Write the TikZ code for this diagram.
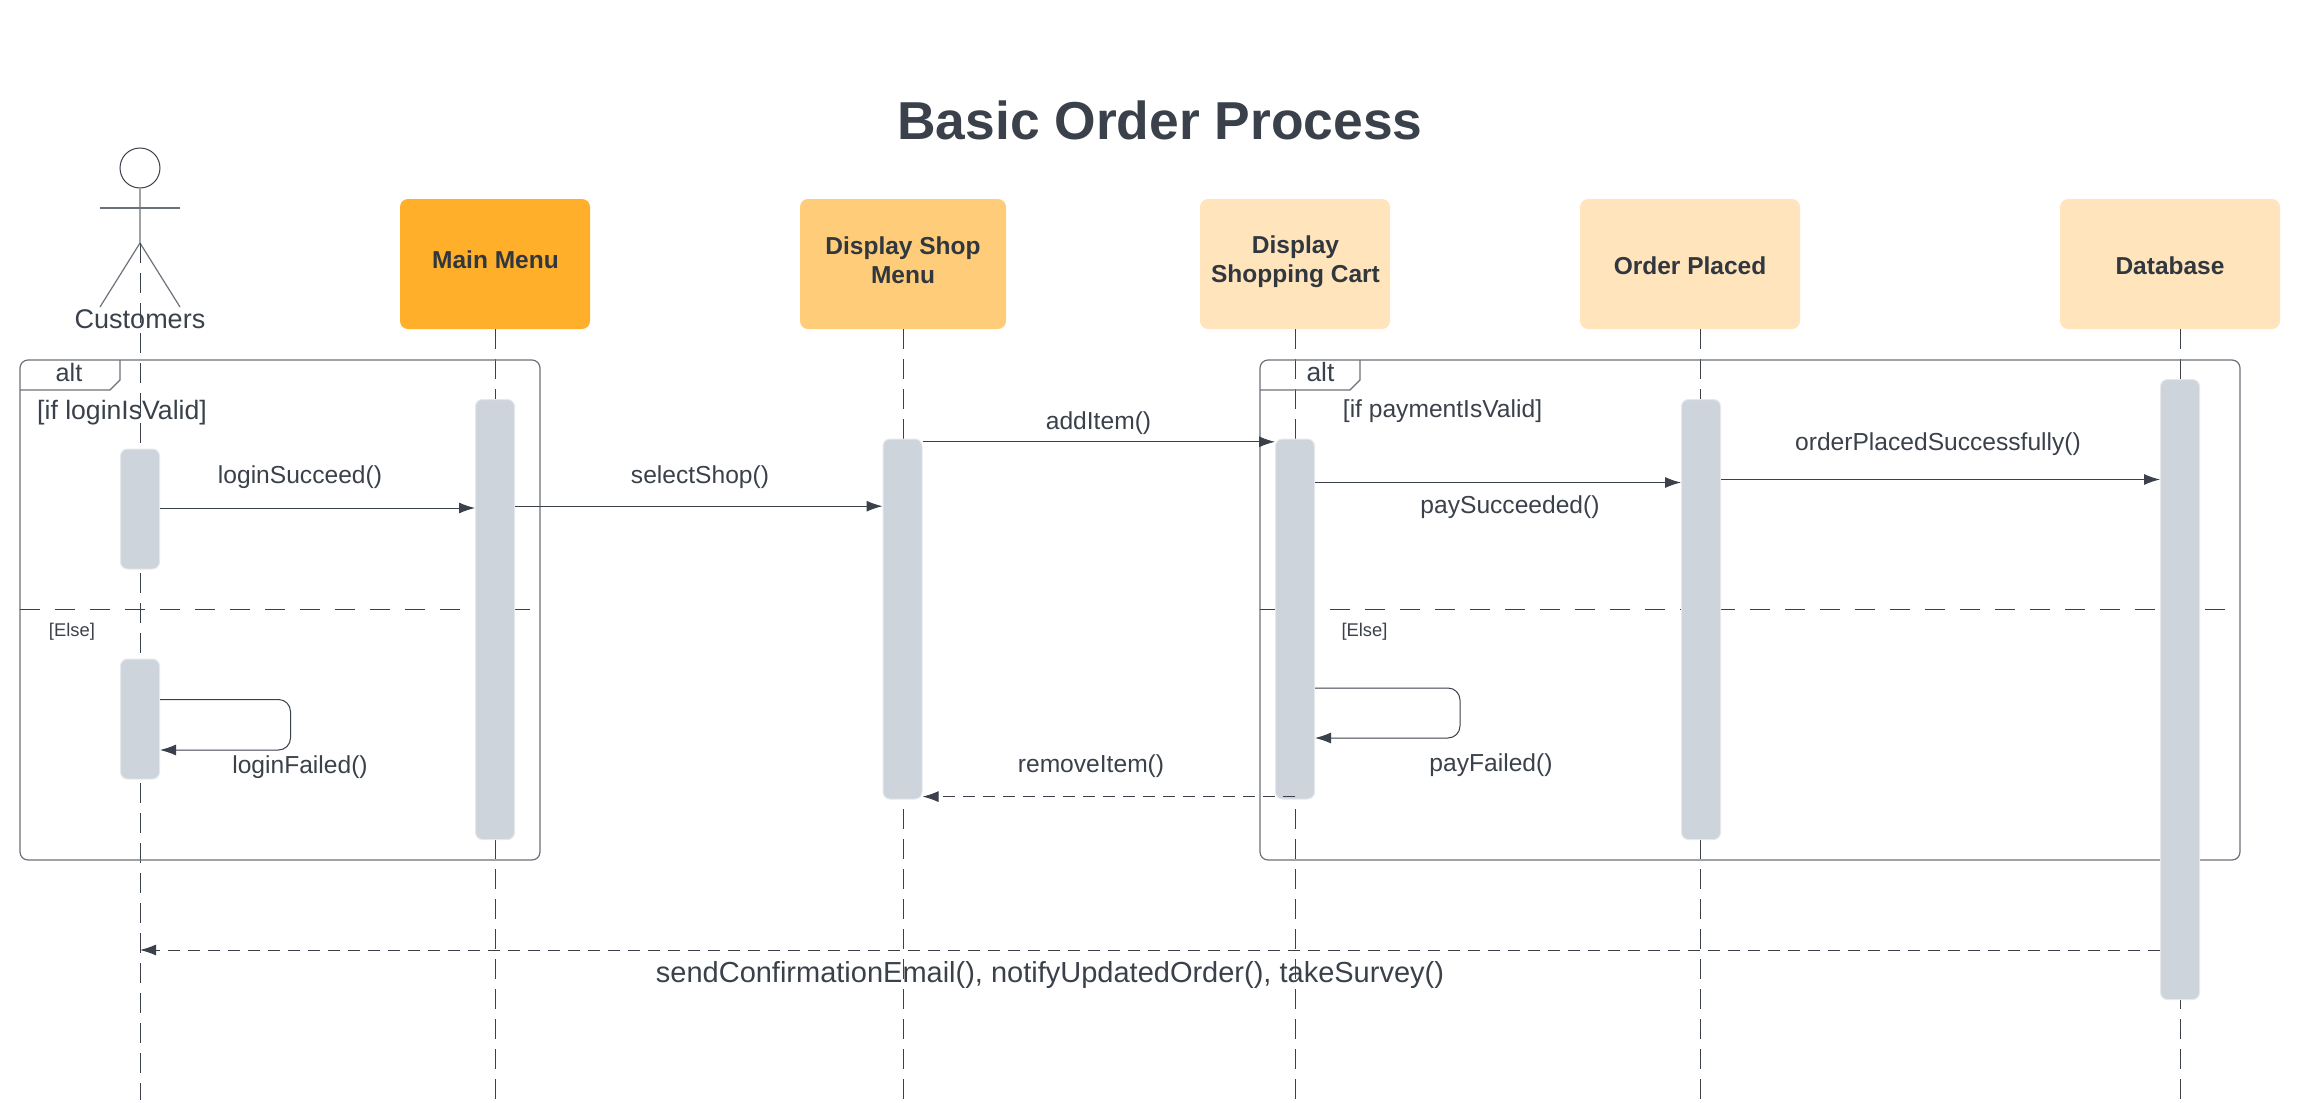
\documentclass[tikz,border=0pt]{standalone}
\usepackage{fontspec}
\setmainfont{Liberation Sans}
\usetikzlibrary{arrows.meta}
\definecolor{ink}{HTML}{3A414A}
\definecolor{frameC}{HTML}{6B717A}
\definecolor{barC}{HTML}{CED4DB}
\definecolor{barEdge}{HTML}{E6E8EB}
\definecolor{orA}{HTML}{FFAF2A}
\definecolor{orB}{HTML}{FFCD79}
\definecolor{orC}{HTML}{FFE4BC}
\newcommand{\fs}[1]{\fontsize{#1}{#1}\selectfont}
\tikzset{
  x=0.5pt,y=-0.5pt,
  head/.style={rectangle,rounded corners=4pt,inner sep=0pt,align=center,text=ink!85!black,font=\fs{12.25}\bfseries},
  bar/.style={rectangle,rounded corners=3.5pt,fill=barC,draw=barEdge,line width=0.5pt,inner sep=0pt,minimum width=19.5pt},
  life/.style={draw=ink,line width=0.5pt,dash pattern=on 10pt off 5pt},
  sep/.style={draw=ink,line width=0.5pt,dash pattern=on 10pt off 7.5pt},
  msg/.style={draw=ink,line width=0.5pt,-{Latex[length=8pt,width=5.5pt]}},
  ret/.style={msg,dash pattern=on 6pt off 4pt},
  frm/.style={draw=frameC,line width=0.6pt},
  lbl/.style={inner sep=0pt,text=ink,font=\fs{12.3}},
}
\begin{document}
\begin{tikzpicture}
\useasboundingbox (0,0) rectangle (2320,1103);
% headers
\node[head,fill=orA,minimum width=95pt,minimum height=65pt] (mm) at (495,264) {};
\node[head,fill=orB,minimum width=103pt,minimum height=65pt] (sm) at (903,264) {};
\node[head,fill=orC,minimum width=95pt,minimum height=65pt] (ca) at (1295,264) {};
\node[head,fill=orC,minimum width=110pt,minimum height=65pt] (op) at (1690,264) {};
\node[head,fill=orC,minimum width=110pt,minimum height=65pt] (db) at (2170,264) {};
\node[head] (mmt) at (495.5,260) {Main Menu};
\node[head] (smt) at (903,260.5) {Display Shop\\[2.3pt]Menu};
\node[head] (cat) at (1295.5,262) {Display\\[2.3pt]Shopping Cart};
\node[head] (opt) at (1690,265.5) {Order Placed};
\node[head] (dbt) at (2170,265.5) {Database};
% bottoms of the lifelines
\coordinate (bc) at (140,1100);
\coordinate (bm) at (495.5,1100);
\coordinate (bs) at (903,1100);
\coordinate (bk) at (1295,1100);
\coordinate (bo) at (1700,1100);
\coordinate (bd) at (2180,1100);
% actor
\node[circle,draw=ink,line width=0.5pt,minimum size=20pt,inner sep=0pt] (actor) at (140,168) {};
\coordinate (hip) at (140,243);
\coordinate (armL) at (100,208);
\coordinate (armR) at (180,208);
\coordinate (legL) at (100,307);
\coordinate (legR) at (180,307);
\draw[frm] (actor.south) -- (hip) -- (legL);
\draw[frm] (hip) -- (legR);
\draw[frm] (armL) -- (armR);
\node[lbl,font=\fs{13.5}] (cust) at (140,319) {Customers};
% lifelines
\draw[life] (hip) -- (bc);
\draw[life] (mm.south) ++(0.5,0) -- (bm);
\draw[life] (sm.south) -- (bs);
\draw[life] (ca.south) -- (bk);
\draw[life] (op.south) ++(10,0) -- (bo);
\draw[life] (db.south) ++(10,0) -- (bd);
% frames
\draw[frm,rounded corners=4pt] (20,360) rectangle (540,860);
\draw[frm] (20,390) -- (110,390) -- (120,380) -- (120,360);
\draw[sep] (20,609) -- (530,609);
\draw[frm,rounded corners=4pt] (1260,360) rectangle (2240,860);
\draw[frm] (1260,390) -- (1350,390) -- (1360,380) -- (1360,360);
\draw[sep] (1260,609) -- (2230,609);
\node[lbl,font=\fs{12.6}] (alta) at (69,372) {alt};
\node[lbl,font=\fs{13.2}] (altb) at (1320.5,372.5) {alt};
\node[lbl,font=\fs{13.3}] (ga) at (122,412.5) {[if loginIsValid]};
\node[lbl,font=\fs{12.3}] (gb) at (1442.5,411) {[if paymentIsValid]};
\node[lbl,font=\fs{9.2}] (ea) at (72,632) {[Else]};
\node[lbl,font=\fs{9.2}] (eb) at (1364.5,632) {[Else]};
% activation bars
\node[bar,minimum height=60pt] (c1) at (140,509) {};
\node[bar,minimum height=60pt] (c2) at (140,719) {};
\node[bar,minimum height=220pt] (m1) at (495,619.5) {};
\node[bar,minimum height=180pt] (s1) at (902.5,619) {};
\node[bar,minimum height=180pt] (k1) at (1295,619) {};
\node[bar,minimum height=220pt] (o1) at (1701,619.5) {};
\node[bar,minimum height=310pt] (d1) at (2180,689.5) {};
% messages
\draw[msg] (c1.east|-0,508) -- (m1.west|-0,508);
\draw[msg] (m1.east|-0,506.2) -- (s1.west|-0,506.2);
\draw[msg] (s1.east|-0,441.8) -- (k1.west|-0,441.8);
\draw[msg] (k1.east|-0,482.5) -- (o1.west|-0,482.5);
\draw[msg] (o1.east|-0,479.5) -- (d1.west|-0,479.5);
\draw[msg,rounded corners=6pt] (c2.east|-0,699.5) -- (290.5,699.5) -- (290.5,750) -- (c2.east|-0,750);
\draw[msg,rounded corners=6pt] (k1.east|-0,688) -- (1460,688) -- (1460,738) -- (k1.east|-0,738);
\draw[ret] (bk|-0,796.6) -- (s1.east|-0,796.6);
\draw[ret] (d1.west|-0,950) -- (bc|-0,950);
% labels
\node[lbl] (l1) at (300,477.5) {loginSucceed()};
\node[lbl] (l2) at (700,477.5) {selectShop()};
\node[lbl] (l3) at (1098.5,423.5) {addItem()};
\node[lbl] (l4) at (1510,507) {paySucceeded()};
\node[lbl] (l5) at (1938,444.5) {orderPlacedSuccessfully()};
\node[lbl] (l6) at (300,767) {loginFailed()};
\node[lbl] (l7) at (1491,765) {payFailed()};
\node[lbl] (l8) at (1091,766.5) {removeItem()};
\node[lbl,font=\fs{14.5}] (l9) at (1050,975) {sendConfirmationEmail(), notifyUpdatedOrder(), takeSurvey()};
\node[inner sep=0pt,text=ink,font=\fs{26.7}\bfseries] (title) at (1160,120) {Basic Order Process};
\end{tikzpicture}
\end{document}
